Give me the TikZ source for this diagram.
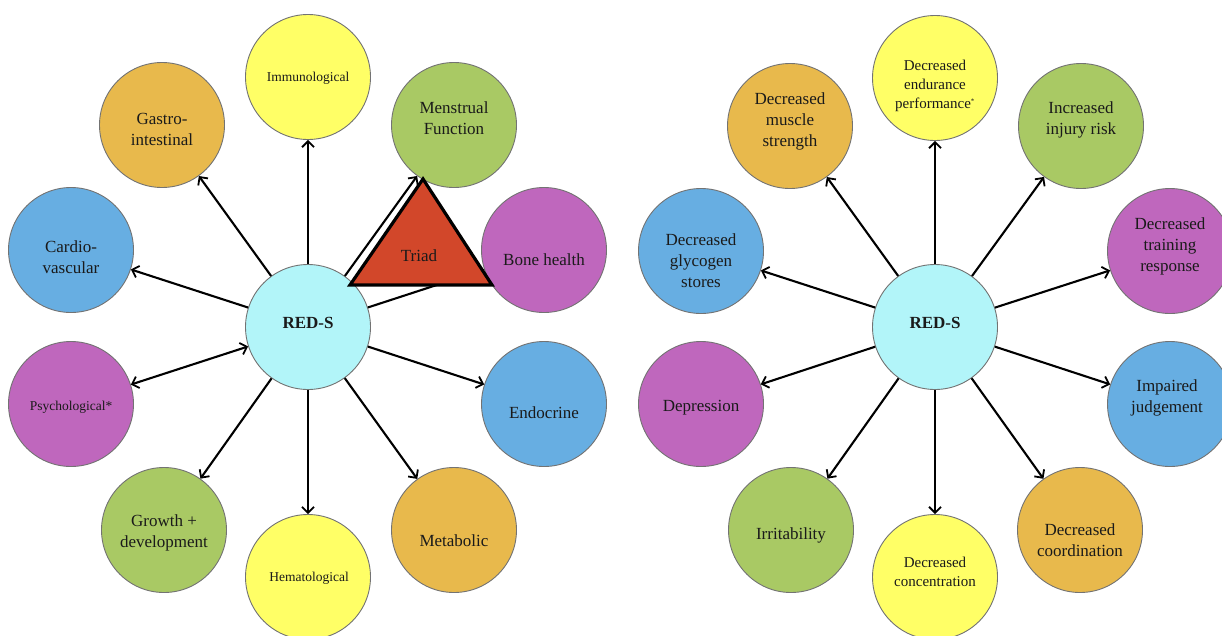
\documentclass[tikz,border=0pt]{standalone}
\usepackage{fontspec}
\setmainfont{Liberation Serif}
\usetikzlibrary{arrows.meta}
\definecolor{cyellow}{HTML}{FFFF66}
\definecolor{corange}{HTML}{E8B94C}
\definecolor{cgreen}{HTML}{A9C964}
\definecolor{cblue}{HTML}{67AEE2}
\definecolor{cpurple}{HTML}{BF67BD}
\definecolor{ccyan}{HTML}{B2F5F9}
\definecolor{cred}{HTML}{D2472A}
\definecolor{ctext}{HTML}{1A1A1A}
\begin{document}
\begin{tikzpicture}[x=1pt,y=-1pt,
  bubc/.style={circle,draw=black!55,line width=0.9pt,minimum size=125pt,inner sep=0pt},
  lab/.style={align=center,inner sep=0pt,text=ctext,font=\fontsize{17}{21}\selectfont},
  labs/.style={lab,font=\fontsize{13.5}{16}\selectfont},
  labm/.style={lab,font=\fontsize{15}{19}\selectfont},
  labb/.style={lab,font=\bfseries\fontsize{17}{21}\selectfont},
  tip/.tip={Straight Barb[length=6pt,width=12pt,line width=1.8pt]},
  arr/.style={line width=2.1pt,-tip},
  arrb/.style={line width=2.1pt,tip-tip},
  tri/.style={fill=cred,draw=black,line width=3.2pt,line join=miter}
]
\useasboundingbox (0,0) rectangle (1222,635);
\clip (0,0) rectangle (1222,635);

% ---------------- left diagram ----------------
\node[bubc,fill=ccyan]   (L)   at (308,327) {};
\node[bubc,fill=cyellow] (imm) at (308,77)  {};
\node[bubc,fill=corange] (gas) at (162,125) {};
\node[bubc,fill=cgreen]  (men) at (454,125) {};
\node[bubc,fill=cblue]   (car) at (71,250)  {};
\node[bubc,fill=cpurple] (bon) at (544,250) {};
\node[bubc,fill=cpurple] (psy) at (71,404)  {};
\node[bubc,fill=cblue]   (edo) at (544,404) {};
\node[bubc,fill=cgreen]  (gro) at (164,530) {};
\node[bubc,fill=cyellow] (hem) at (308,577) {};
\node[bubc,fill=corange] (met) at (454,530) {};

\node[labb] (Lt)   at (308,323) {RED-S};
\node[labs] (immt) at (308,78)  {Immunological};
\node[lab]  (gast) at (162,129) {Gastro-\\intestinal};
\node[lab]  (ment) at (454,118) {Menstrual\\Function};
\node[lab]  (cart) at (71,257)  {Cardio-\\vascular};
\node[lab]  (bont) at (544,260) {Bone health};
\node[labs] (psyt) at (71,407)  {Psychological*};
\node[lab]  (edot) at (544,413) {Endocrine};
\node[lab]  (grot) at (164,533) {Growth +\\development};
\node[labs] (hemt) at (309,578) {Hematological};
\node[lab]  (mett) at (454,541) {Metabolic};

\draw[arr]  (L) -- (imm);
\draw[arr]  (L) -- (gas);
\draw[arr]  (L) -- (men);
\draw[arr]  (L) -- (car);
\draw[arr]  (L) -- (bon);
\draw[arrb] (L) -- (psy);
\draw[arr]  (L) -- (edo);
\draw[arr]  (L) -- (gro);
\draw[arr]  (L) -- (hem);
\draw[arr]  (L) -- (met);

\coordinate (ta) at (423,179);
\coordinate (tb) at (350,285);
\coordinate (tc) at (492,285);
\draw[tri] (ta) -- (tb) -- (tc) -- cycle;
\node[lab] (triad) at (419,256) {Triad};

% ---------------- right diagram ----------------
\node[bubc,fill=ccyan]   (R)   at (935,327)  {};
\node[bubc,fill=cyellow] (edu) at (935,78)   {};
\node[bubc,fill=corange] (mus) at (790,126)  {};
\node[bubc,fill=cgreen]  (inj) at (1081,126) {};
\node[bubc,fill=cblue]   (gly) at (701,251)  {};
\node[bubc,fill=cpurple] (trn) at (1170,251) {};
\node[bubc,fill=cpurple] (dep) at (701,404)  {};
\node[bubc,fill=cblue]   (imp) at (1170,404) {};
\node[bubc,fill=cgreen]  (irr) at (791,530)  {};
\node[bubc,fill=cyellow] (con) at (935,577)  {};
\node[bubc,fill=corange] (coo) at (1080,530) {};

\node[labb] (Rt)   at (935,323)  {RED-S};
\node[labm] (edut) at (935,86)   {Decreased\\endurance\\performance\textsuperscript{\scriptsize *}};
\node[lab]  (must) at (790,121)  {Decreased\\muscle\\strength};
\node[lab]  (injt) at (1081,120) {Increased\\injury risk};
\node[lab]  (glyt) at (701,261)  {Decreased\\glycogen\\stores};
\node[lab]  (trnt) at (1170,246) {Decreased\\training\\response};
\node[lab]  (dept) at (701,408)  {Depression};
\node[lab]  (impt) at (1167,398) {Impaired\\judgement};
\node[lab]  (irrt) at (791,535)  {Irritability};
\node[labm] (cont) at (935,572)  {Decreased\\concentration};
\node[lab]  (coot) at (1080,540) {Decreased\\coordination};

\draw[arr] (R) -- (edu);
\draw[arr] (R) -- (mus);
\draw[arr] (R) -- (inj);
\draw[arr] (R) -- (gly);
\draw[arr] (R) -- (trn);
\draw[arr] (R) -- (dep);
\draw[arr] (R) -- (imp);
\draw[arr] (R) -- (irr);
\draw[arr] (R) -- (con);
\draw[arr] (R) -- (coo);
\end{tikzpicture}
\end{document}
